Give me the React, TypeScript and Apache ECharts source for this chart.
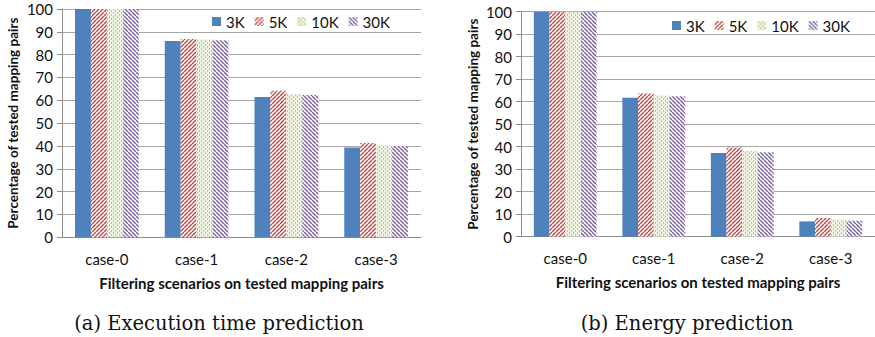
import React, { useEffect, useRef } from "react";
import * as echarts from "echarts";

const categories = ["case-0", "case-1", "case-2", "case-3"];
const sizes = ["3K", "5K", "10K", "30K"];

// (a) execution time prediction, % of tested mapping pairs
const execTime3K = [100, 86.0, 61.4, 39.3];
const execTime5K = [100, 86.9, 64.2, 41.3];
const execTime10K = [100, 86.5, 62.7, 40.3];
const execTime30K = [100, 86.3, 62.3, 40.0];

// (b) energy prediction, % of tested mapping pairs
const energy3K = [100, 61.8, 37.2, 6.8];
const energy5K = [100, 63.7, 39.6, 8.3];
const energy10K = [100, 62.8, 38.1, 7.6];
const energy30K = [100, 62.4, 37.5, 7.1];

const yTicks = { min: 0, max: 100, interval: 10 };

const AXIS_FONT = "Lato, 'Open Sans', sans-serif";
const CAPTION_FONT = "'DejaVu Serif', 'Liberation Serif', serif";

function makeTile(size: number, draw: (ctx: CanvasRenderingContext2D) => void) {
  const c = document.createElement("canvas");
  c.width = size;
  c.height = size;
  const ctx = c.getContext("2d")!;
  draw(ctx);
  return { image: c, repeat: "repeat", imageWidth: size, imageHeight: size } as any;
}

function diagonalStripes(color: string, dir: "/" | "\\") {
  const s = 4;
  return makeTile(s, (ctx) => {
    ctx.fillStyle = "#ffffff";
    ctx.fillRect(0, 0, s, s);
    ctx.strokeStyle = color;
    ctx.lineWidth = 1.5;
    for (const o of [-s, 0, s]) {
      ctx.beginPath();
      if (dir === "/") {
        ctx.moveTo(o, s);
        ctx.lineTo(o + s, 0);
      } else {
        ctx.moveTo(o, 0);
        ctx.lineTo(o + s, s);
      }
      ctx.stroke();
    }
  });
}

function dashedVertical(bg: string, color: string) {
  const s = 4;
  return makeTile(s, (ctx) => {
    ctx.fillStyle = bg;
    ctx.fillRect(0, 0, s, s);
    ctx.fillStyle = color;
    ctx.fillRect(1, 0, 1, 2);
    ctx.fillRect(3, 2, 1, 2);
  });
}

export default function App() {
  const ref = useRef<HTMLDivElement>(null);

  useEffect(() => {
    document.body.style.margin = "0";
    if (!ref.current) return;
    const chart = echarts.init(ref.current, null, { renderer: "svg" });

    const fills = [
      "#4F81BD",
      diagonalStripes("#C0504D", "/"),
      dashedVertical("#EDF3E0", "#B5CD86"),
      diagonalStripes("#8064A2", "\\"),
    ];

    const grids = [
      { left: 62, top: 9, width: 359, height: 228.3 },
      { left: 521, top: 11.7, width: 358, height: 225 },
    ];

    const xAxes = grids.map((_, i) => ({
      type: "category",
      gridIndex: i,
      data: categories,
      axisLine: { lineStyle: { color: "#8C8C8C", width: 1 } },
      axisTick: { show: false },
      axisLabel: { color: "#111", fontFamily: AXIS_FONT, fontSize: 15, margin: 14 },
      name: "Filtering scenarios on tested mapping pairs",
      nameLocation: "middle",
      nameGap: 38,
      nameTextStyle: { color: "#111", fontFamily: AXIS_FONT, fontWeight: "bold", fontSize: 15 },
    }));

    const yAxes = grids.map((_, i) => ({
      type: "value",
      gridIndex: i,
      ...yTicks,
      axisLine: { show: true, lineStyle: { color: "#8C8C8C", width: 1 } },
      axisTick: { show: true, length: 5, lineStyle: { color: "#8C8C8C" } },
      splitLine: { lineStyle: { color: "#A6A6A6", width: 1 } },
      axisLabel: { color: "#111", fontFamily: AXIS_FONT, fontSize: 15, margin: 9 },
      name: "Percentage of tested mapping pairs",
      nameLocation: "middle",
      nameGap: i === 0 ? 42 : 41,
      nameTextStyle: { color: "#111", fontFamily: AXIS_FONT, fontWeight: "bold", fontSize: 13.5 },
    }));

    const panels = [
      [execTime3K, execTime5K, execTime10K, execTime30K],
      [energy3K, energy5K, energy10K, energy30K],
    ];

    const series: any[] = [];
    panels.forEach((panel, gi) => {
      panel.forEach((values, si) => {
        series.push({
          type: "bar",
          name: sizes[si],
          xAxisIndex: gi,
          yAxisIndex: gi,
          data: values,
          barGap: "0%",
          barCategoryGap: "29%",
          itemStyle: { color: fills[si] },
        });
      });
    });

    const legendBase = {
      data: sizes,
      icon: "rect",
      itemWidth: 9,
      itemHeight: 9,
      itemGap: 10,
      orient: "horizontal",
      textStyle: { color: "#111", fontFamily: AXIS_FONT, fontSize: 15 },
      selectedMode: false,
    };

    chart.setOption({
      animation: false,
      backgroundColor: "#ffffff",
      grid: grids,
      xAxis: xAxes,
      yAxis: yAxes,
      legend: [
        { ...legendBase, left: 207, top: 9 },
        { ...legendBase, left: 667, top: 13 },
      ],
      series,
      graphic: [
        {
          type: "text",
          x: 219,
          y: 323,
          style: {
            text: "(a) Execution time prediction",
            fontFamily: CAPTION_FONT,
            fontSize: 19.5,
            fill: "#111",
            align: "center",
            verticalAlign: "middle",
          },
        },
        {
          type: "text",
          x: 687,
          y: 323,
          style: {
            text: "(b) Energy prediction",
            fontFamily: CAPTION_FONT,
            fontSize: 19.5,
            fill: "#111",
            align: "center",
            verticalAlign: "middle",
          },
        },
      ],
    });

    return () => chart.dispose();
  }, []);

  return <div ref={ref} style={{ width: 875, height: 337 }} />;
}
